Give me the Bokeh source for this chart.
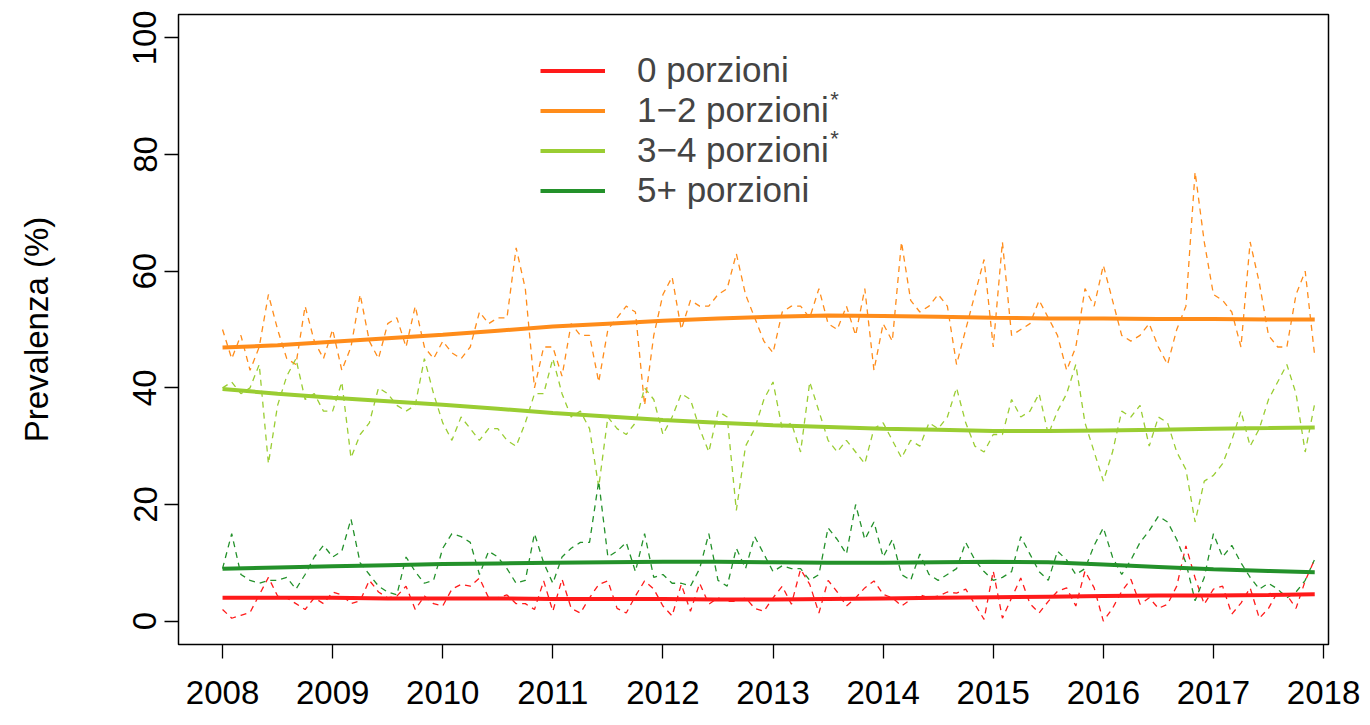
import numpy as np
from bokeh.plotting import figure
from bokeh.models import Legend, LegendItem, Label, FixedTicker, Range1d
from bokeh.embed import file_html
from bokeh.resources import INLINE

# ---- data (monthly prevalence, Jan 2008 - Dec 2017) ----
start_year = 2008
n_months = 120

zero = [2, 0.5, 1, 1.5, 4.5, 7.5, 4.3, 4, 3, 2, 4, 3,
        5, 4.5, 3, 3.5, 7, 5, 4, 4.3, 6, 2, 4.3, 3,
        2.6, 5.5, 6.3, 6, 7.4, 4, 4, 4.5, 3, 3, 2, 6.9,
        1.7, 7.2, 2.2, 1.4, 4, 6.3, 6.9, 2.2, 1.4, 4.3, 6.9, 5.5,
        2.6, 0.9, 6.3, 1.7, 6.5, 2.9, 4, 3.4, 3.4, 4, 2.2, 1.7,
        4, 6, 2.9, 8.9, 6.3, 1.4, 7, 5, 2.6, 4, 5.7, 6.9,
        4.6, 4, 2.6, 3.7, 4.5, 4, 4.3, 5, 4.8, 5.5, 2.9, 0.3,
        8.6, 0.5, 4, 7.4, 3, 1.4, 3.4, 5.1, 5.7, 2.6, 8.6, 5.7,
        0, 2.2, 5.1, 7.2, 2.9, 4, 2.2, 2.9, 6, 12.9, 7.4, 2.9,
        5.5, 6, 1.2, 3.1, 5.7, 0.5, 2.2, 5, 4.5, 2.2, 6.9, 10.5]

one_two = [50, 45, 49, 43, 47, 56, 50, 45, 44, 54, 48, 45,
           50, 43, 47, 56, 48, 45, 51, 52, 47, 54, 47, 45,
           48, 46, 45, 47, 53, 51, 52, 52, 64, 57, 40, 47,
           47, 42, 51, 49, 49, 41, 50, 52, 54, 53, 37, 49,
           56, 59, 50, 55, 54, 54, 56, 57, 63, 56, 52, 48,
           46, 53, 54, 54, 52, 57, 51, 50, 54, 49, 57, 43,
           51, 48, 65, 55, 53, 54, 56, 54, 44, 50, 56, 62,
           47, 65, 49, 50, 51, 55, 52, 49, 43, 47, 57, 54,
           61, 55, 49, 48, 49, 51, 47, 44, 50, 54, 77, 65,
           56, 55, 53, 47, 65, 58, 49, 47, 47, 56, 60, 46]

three_four = [40, 41, 39, 40, 44, 27, 37, 42, 45, 38, 39, 36,
              36, 41, 28, 32, 34, 40, 39, 37, 36, 37, 45, 39,
              34, 31, 35, 33, 31, 33, 33, 31, 30, 34, 39, 39,
              45, 39, 35, 36, 33, 23, 35, 33, 32, 34, 40, 38,
              32, 35, 39, 38, 33, 29, 36, 35, 19, 30, 33, 38,
              41, 33, 34, 29, 41, 36, 31, 29, 31, 29, 27, 33,
              34, 31, 28, 31, 30, 34, 33, 35, 40, 34, 30, 29,
              32, 32, 38, 35, 36, 39, 32, 36, 39, 44, 34, 29,
              24, 29, 36, 35, 37, 30, 35, 34, 29, 26, 17, 24,
              25, 27, 31, 36, 30, 33, 38, 41, 44, 39, 29, 37]

five_plus = [9, 15, 8, 7, 6.5, 7, 7, 7.5, 5.5, 8, 11, 13,
             11, 12, 17.5, 10, 8, 6, 5, 4.5, 11, 8.5, 6.5, 7,
             12.5, 15, 14.5, 13.5, 8, 12, 11, 9, 6.5, 7, 15, 10,
             6.5, 11, 12.5, 13.5, 13.5, 24, 11, 12, 13.5, 8.5, 15, 7.5,
             8, 6.5, 6.5, 6, 9, 15, 7, 6, 12.5, 9, 14.5, 11.5,
             8.5, 9.5, 9, 9, 7, 8, 16, 14, 11.5, 20, 14, 17,
             11, 14, 8, 7, 11.5, 8, 7, 8, 9, 13.5, 10.5, 8.5,
             7, 7.5, 8.5, 14.5, 11.5, 8.5, 7, 12, 10.5, 8, 9, 13,
             16, 11, 8, 10.5, 13.5, 15.5, 18, 17, 14, 10, 3.5, 7.5,
             15, 11, 13, 10, 7.5, 5.5, 6.5, 5.5, 4, 5, 7, 10.5]

# smoothed trends, read at half-year points
trend_t = [2008.0, 2008.5, 2009.0, 2009.5, 2010.0, 2010.5, 2011.0, 2011.5,
           2012.0, 2012.5, 2013.0, 2013.5, 2014.0, 2014.5, 2015.0, 2015.5,
           2016.0, 2016.5, 2017.0, 2017.5, 2017.92]
trend_zero = [4.0, 4.0, 4.0, 3.9, 3.9, 3.9, 3.8, 3.8, 3.8, 3.7, 3.7, 3.8,
              3.9, 4.0, 4.1, 4.2, 4.3, 4.4, 4.4, 4.5, 4.6]
trend_one_two = [46.9, 47.3, 47.9, 48.5, 49.1, 49.8, 50.5, 51.0, 51.5, 51.9, 52.2,
                 52.4, 52.3, 52.2, 52.0, 51.9, 51.9, 51.8, 51.8, 51.7, 51.7]
trend_three_four = [39.8, 39.0, 38.3, 37.7, 37.1, 36.4, 35.7, 35.1, 34.5, 34.0, 33.6,
                    33.3, 33.0, 32.8, 32.6, 32.6, 32.7, 32.8, 33.0, 33.1, 33.2]
trend_five_plus = [9.0, 9.2, 9.4, 9.6, 9.8, 9.9, 10.0, 10.1, 10.2, 10.2, 10.1,
                   10.0, 10.0, 10.1, 10.2, 10.1, 9.7, 9.3, 8.9, 8.6, 8.4]

labels = ["0 porzioni", "1\u22122 porzioni", "3\u22124 porzioni", "5+ porzioni"]
starred = [False, True, True, False]
colors = ["#FF1A1A", "#FF8C1A", "#9ACD32", "#23912A"]
x_ticks = list(range(2008, 2019))
y_ticks = [0, 20, 40, 60, 80, 100]

t = [start_year + i / 12 for i in range(n_months)]

FONT = "Liberation Sans"
FS = "33px"
LFSN = 35
LFS = f"{LFSN}px"

p = figure(frame_width=1150, frame_height=630,
           min_border_left=178, min_border_right=34, min_border_top=14, min_border_bottom=80,
           x_range=Range1d(2007.60, 2018.045), y_range=Range1d(-4, 104),
           output_backend="svg", toolbar_location=None)
p.background_fill_color = "white"
p.border_fill_color = "white"
p.outline_line_color = "black"
p.outline_line_width = 1.5
p.xgrid.visible = False
p.ygrid.visible = False

series = [zero, one_two, three_four, five_plus]
trends = [trend_zero, trend_one_two, trend_three_four, trend_five_plus]
for s, c in zip(series, colors):
    p.line(t, s, line_color=c, line_width=1.3, line_dash="6 5")
trend_renderers = []
for tr, c in zip(trends, colors):
    r = p.line(trend_t, tr, line_color=c, line_width=4)
    trend_renderers.append(r)

for ax in (p.xaxis[0], p.yaxis[0]):
    ax.axis_line_color = None
    ax.major_tick_line_color = "black"
    ax.major_tick_line_width = 1.3
    ax.major_tick_in = 0
    ax.major_tick_out = 14
    ax.minor_tick_line_color = None
    ax.major_label_text_font = FONT
    ax.major_label_text_font_size = FS
    ax.major_label_text_color = "black"

p.xaxis.ticker = FixedTicker(ticks=x_ticks)
p.yaxis.ticker = FixedTicker(ticks=y_ticks)
p.xaxis.major_label_standoff = 22
p.yaxis.major_label_standoff = 8
p.yaxis.major_label_orientation = "vertical"
p.yaxis.axis_label = "Prevalenza (%)"
p.yaxis.axis_label_text_font = FONT
p.yaxis.axis_label_text_font_size = FS
p.yaxis.axis_label_text_font_style = "normal"
p.yaxis.axis_label_text_color = "black"
p.yaxis.axis_label_standoff = 76

LX, LY = 362, 434
items = [LegendItem(label=l, renderers=[r]) for l, r in zip(labels, trend_renderers)]
legend = Legend(items=items, location=(LX, LY), border_line_color=None,
                background_fill_alpha=0, padding=0, spacing=0, margin=0,
                glyph_width=65, glyph_height=39, label_height=39, label_standoff=32,
                label_text_font=FONT, label_text_font_size=LFS)
p.add_layout(legend)

# superscript asterisks for the starred legend entries
text_w = 5.475 * LFSN
for i, st in enumerate(starred):
    if st:
        p.add_layout(Label(x=LX + 65 + 32 + text_w + 1, y=LY + 156 - 39 * i - 18,
                           x_units="screen", y_units="screen", text="*",
                           text_font=FONT, text_font_size="22px", text_baseline="bottom"))

open("out.html", "w").write(file_html(p, INLINE))
